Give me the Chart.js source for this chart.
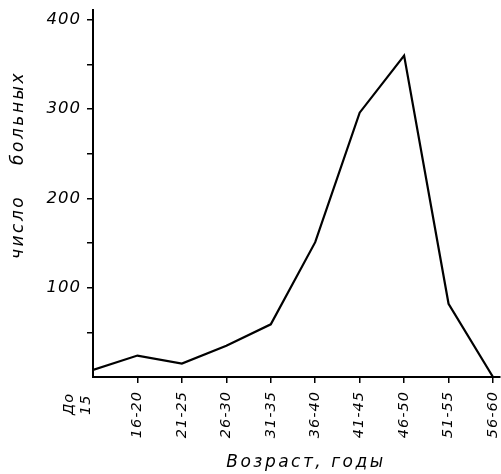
<!DOCTYPE html>
<html>
<head>
<meta charset="utf-8">
<script src="https://cdn.jsdelivr.net/npm/chart.js@4"></script>
<style>
  html, body { margin: 0; padding: 0; background: #fff; }
  #wrap { width: 501px; height: 474px; }
</style>
</head>
<body>
<div id="wrap"><canvas id="c"></canvas></div>
<script>
// Age groups (x categories) and number of patients in each
const ageGroups = ['До 15', '16-20', '21-25', '26-30', '31-35', '36-40', '41-45', '46-50', '51-55', '56-60'];
const patients  = [8, 24, 15, 35, 59, 151, 296, 360, 82, 0];

// Y axis: tick marks every 50, labels on the hundreds
const countMarks  = [50, 100, 150, 200, 250, 300, 350, 400];
const countLabels = [100, 200, 300, 400];

const xTitle = 'Возраст, годы';
const yTitle = 'число больных';

const FONT = '"DejaVu Sans", "Liberation Sans", sans-serif';

// Slightly spaced-out lettering for the tick labels
const spacing = {
  id: 'spacing',
  beforeLayout(chart) { chart.ctx.letterSpacing = '1px'; },
  beforeDraw(chart) { chart.ctx.letterSpacing = '1px'; }
};

// Axis titles and the two-line first age group label
const captions = {
  id: 'captions',
  afterDraw(chart) {
    const { ctx, scales: { x, y } } = chart;
    ctx.save();
    ctx.fillStyle = '#000';

    // "До 15" stacked to the left of the origin, reading upwards
    const parts = ageGroups[0].split(' ');
    const x0 = x.getPixelForValue(0);
    ctx.font = `italic 14.5px ${FONT}`;
    ctx.letterSpacing = '1px';
    ctx.textBaseline = 'middle';
    ctx.textAlign = 'left';
    [[parts[0], -24], [parts[1], -7]].forEach(([t, dx]) => {
      ctx.save();
      ctx.translate(x0 + dx, x.top + 38);
      ctx.rotate(-Math.PI / 2);
      ctx.fillText(t, 0, 0);
      ctx.restore();
    });

    // Y title
    ctx.font = `italic 17px ${FONT}`;
    ctx.letterSpacing = '2.5px';
    ctx.wordSpacing = '22px';
    ctx.textAlign = 'center';
    ctx.save();
    ctx.translate(19, y.top + 155);
    ctx.rotate(-Math.PI / 2);
    ctx.fillText(yTitle, 0, 0);
    ctx.restore();

    // X title
    ctx.font = `italic 17px ${FONT}`;
    ctx.letterSpacing = '2.5px';
    ctx.wordSpacing = '0px';
    ctx.textAlign = 'center';
    ctx.textBaseline = 'alphabetic';
    ctx.fillText(xTitle, 306, 467);
    ctx.restore();
  }
};

new Chart(document.getElementById('c'), {
  type: 'line',
  data: {
    datasets: [{
      data: patients.map((v, i) => ({ x: i, y: v })),
      borderColor: '#000',
      borderWidth: 2.2,
      pointRadius: 0,
      tension: 0,
      fill: false
    }]
  },
  options: {
    responsive: true,
    maintainAspectRatio: false,
    animation: false,
    layout: { padding: { top: 10, right: 1, left: 0, bottom: 0 } },
    plugins: { legend: { display: false }, tooltip: { enabled: false } },
    scales: {
      x: {
        type: 'linear',
        min: 0,
        max: 9.1575,
        afterBuildTicks(scale) {
          scale.ticks = ageGroups.map((_, i) => ({ value: i })).slice(1);
        },
        afterFit(scale) {
          scale.height = 97;
          scale.paddingLeft = 0;
          scale.paddingRight = 0;
        },
        border: { display: true, color: '#000', width: 2 },
        grid: { drawOnChartArea: false, drawTicks: true, tickLength: 6, color: '#000', lineWidth: 1.5 },
        ticks: {
          autoSkip: false,
          minRotation: 90,
          maxRotation: 90,
          padding: 8,
          color: '#000',
          font: { family: FONT, size: 14.5, style: 'italic' },
          callback: (v) => ageGroups[v]
        }
      },
      y: {
        min: 0,
        max: 411,
        afterBuildTicks(scale) {
          scale.ticks = countMarks.map(v => ({ value: v }));
        },
        afterFit(scale) {
          scale.width = 93;
          scale.paddingTop = 0;
          scale.paddingBottom = 0;
        },
        border: { display: true, color: '#000', width: 2 },
        grid: { drawOnChartArea: false, drawTicks: true, tickLength: 6, color: '#000', lineWidth: 1.5 },
        ticks: {
          padding: 6,
          color: '#000',
          font: { family: FONT, size: 16.5, style: 'italic' },
          callback: (v) => countLabels.includes(v) ? String(v) : ''
        }
      }
    }
  },
  plugins: [spacing, captions]
});
</script>
</body>
</html>
